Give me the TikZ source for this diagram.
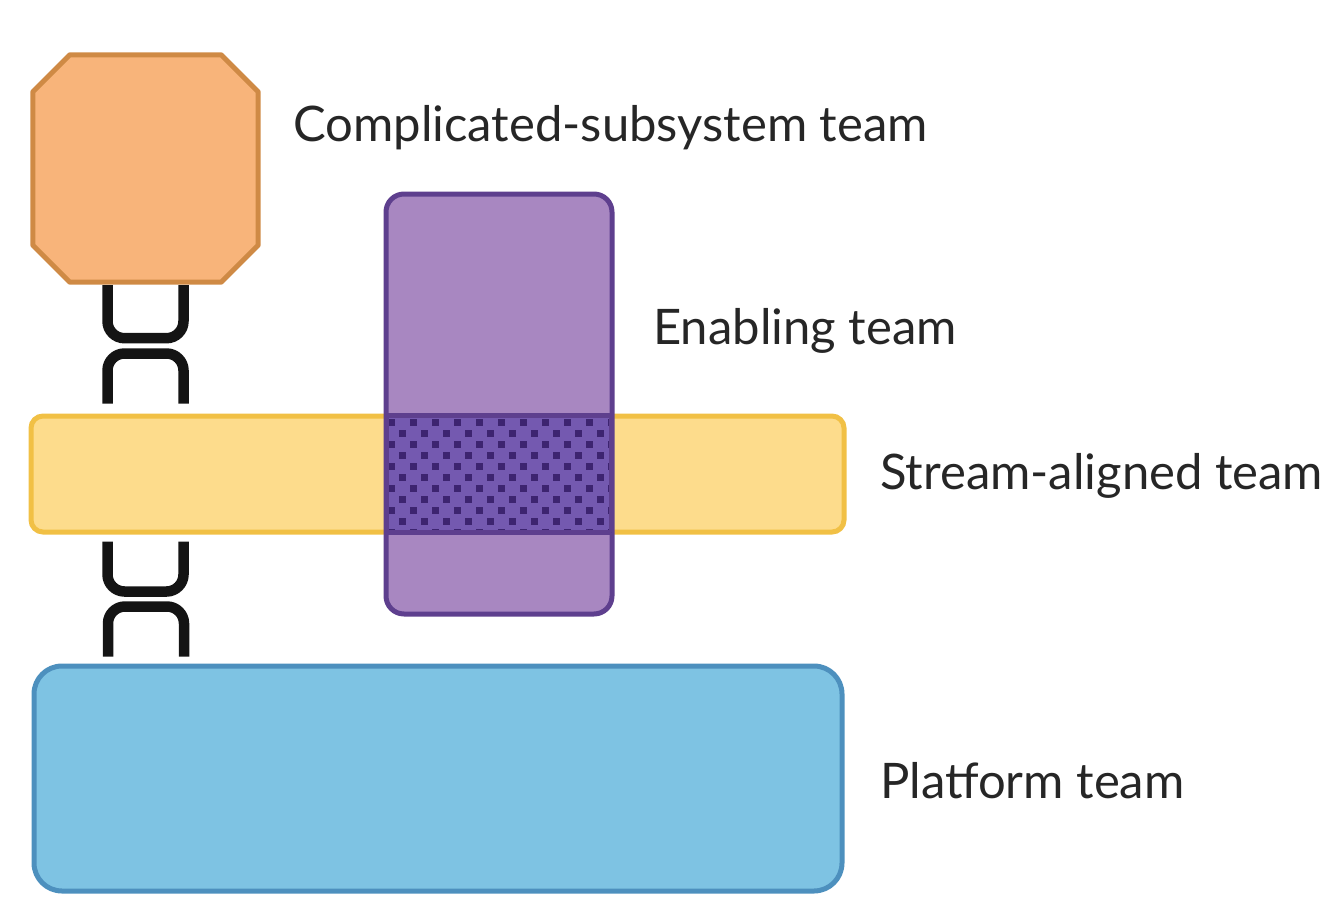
\documentclass[tikz,border=0pt]{standalone}
\usepackage{fontspec}
\setmainfont{Lato}
\usetikzlibrary{calc}
\definecolor{orfill}{HTML}{F8B47A}
\definecolor{ordraw}{HTML}{CF8A45}
\definecolor{yefill}{HTML}{FDDC8C}
\definecolor{yedraw}{HTML}{F1C045}
\definecolor{pufill}{HTML}{A887C1}
\definecolor{pudraw}{HTML}{5E3F8E}
\definecolor{ovfill}{HTML}{7459B0}
\definecolor{ovdot}{HTML}{3D2470}
\definecolor{blfill}{HTML}{7EC3E3}
\definecolor{bldraw}{HTML}{4D90BE}
\tikzset{
  team/.style={inner sep=0pt, line width=5pt},
  lbl/.style={anchor=west, inner sep=0pt, font=\fontsize{49}{53}\selectfont, text=black!85},
  link/.style={line width=10.5pt, rounded corners=17pt, black!92}
}
\begin{document}
\begin{tikzpicture}[x=1pt,y=-1pt]
\useasboundingbox (0,0) rectangle (1327,902);
% platform
\node[team, draw=bldraw, fill=blfill, rounded corners=28pt, minimum width=808pt, minimum height=225pt] (pl) at (438,778.5) {};
% stream-aligned
\node[team, draw=yedraw, fill=yefill, rounded corners=12pt, minimum width=813pt, minimum height=116pt] (sa) at (437.5,474) {};
% enabling
\node[team, draw=pudraw, fill=pufill, rounded corners=18pt, minimum width=226pt, minimum height=420pt] (en) at (499,404) {};
% overlap
\node[inner sep=0pt, fill=ovfill, minimum width=224pt, minimum height=116pt] (ov) at (499,474) {};
\begin{scope}
\clip (ov.north west) rectangle (ov.south east);
\foreach \r in {0,...,11}{
  \foreach \c in {0,...,21}{
    \pgfmathsetmacro{\xx}{391+\c*11}
    \pgfmathsetmacro{\yy}{422+\r*11}
    \pgfmathtruncatemacro{\parity}{mod(\r+\c,2)}
    \ifnum\parity=0
      \fill[ovdot] (\xx-3.5,\yy-3.5) rectangle (\xx+3.5,\yy+3.5);
    \fi
  }
}
\end{scope}
\draw[pudraw, line width=5pt] (ov.north west) -- (ov.north east);
\draw[pudraw, line width=5pt] (ov.south west) -- (ov.south east);
\draw[pudraw, line width=5pt] (ov.north west) -- (ov.south west);
\draw[pudraw, line width=5pt] (ov.north east) -- (ov.south east);
% complicated subsystem (octagon with cut corners)
\node[inner sep=0pt, minimum width=225pt, minimum height=227pt] (cs) at (145.5,168.5) {};
\draw[team, draw=ordraw, fill=orfill, line join=round]
  ($(cs.north west)+(37,0)$) -- ($(cs.north east)+(-37,0)$) -- ($(cs.north east)+(0,37)$)
  -- ($(cs.south east)+(0,-37)$) -- ($(cs.south east)+(-37,0)$) -- ($(cs.south west)+(37,0)$)
  -- ($(cs.south west)+(0,-37)$) -- ($(cs.north west)+(0,37)$) -- cycle;
% links
\coordinate (a1) at ($(cs.south)+(-38,3)$);
\coordinate (a2) at ($(cs.south)+(38,3)$);
\draw[link] (a1) -- ($(a1)+(0,53)$) -- ($(a2)+(0,53)$) -- (a2);
\coordinate (b1) at ($(sa.north)+(-330,-10)$);
\coordinate (b2) at ($(sa.north)+(-254,-10)$);
\draw[link] (b1) -- ($(b1)+(0,-50)$) -- ($(b2)+(0,-50)$) -- (b2);
\coordinate (c1) at ($(sa.south)+(-330,7)$);
\coordinate (c2) at ($(sa.south)+(-254,7)$);
\draw[link] (c1) -- ($(c1)+(0,50)$) -- ($(c2)+(0,50)$) -- (c2);
\coordinate (d1) at ($(pl.north)+(-330,-7)$);
\coordinate (d2) at ($(pl.north)+(-254,-7)$);
\draw[link] (d1) -- ($(d1)+(0,-50)$) -- ($(d2)+(0,-50)$) -- (d2);
% labels
\node[lbl] (tcs) at (293,128) {Complicated-subsystem team};
\node[lbl] (ten) at (653,331) {Enabling team};
\node[lbl] (tsa) at (880,476) {Stream-aligned team};
\node[lbl] (tpl) at (880,781) {Platform team};
\end{tikzpicture}
\end{document}
